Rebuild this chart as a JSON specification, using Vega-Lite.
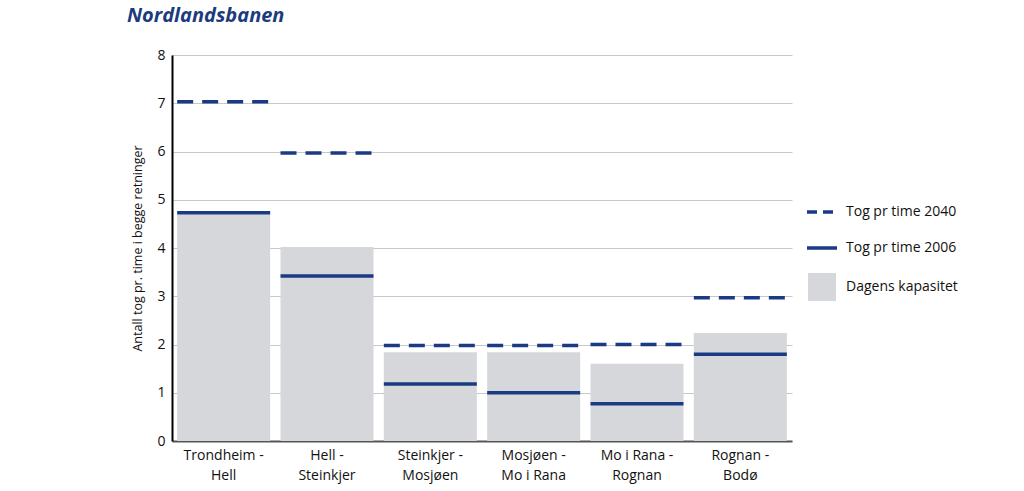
{
  "$schema": "https://vega.github.io/schema/vega-lite/v6.json",
  "autosize": {"type": "none"},
  "padding": {"left": 172, "top": 55, "right": 232, "bottom": 50},
  "width": 620,
  "height": 386,
  "background": "white",
  "title": {
    "text": "Nordlandsbanen",
    "anchor": "start",
    "frame": "group",
    "dx": -45,
    "offset": 22,
    "font": "Open Sans",
    "fontSize": 20,
    "fontWeight": "bold",
    "fontStyle": "italic",
    "color": "#1c3b7e"
  },
  "config": {
    "view": {"stroke": null},
    "font": "Open Sans"
  },
  "datasets": {
    "kapasitet": [
      {"strekning": "Trondheim - Hell", "verdi": 4.7, "serie": "Dagens kapasitet"},
      {"strekning": "Hell - Steinkjer", "verdi": 4.02, "serie": "Dagens kapasitet"},
      {"strekning": "Steinkjer - Mosjøen", "verdi": 1.84, "serie": "Dagens kapasitet"},
      {"strekning": "Mosjøen - Mo i Rana", "verdi": 1.84, "serie": "Dagens kapasitet"},
      {"strekning": "Mo i Rana - Rognan", "verdi": 1.6, "serie": "Dagens kapasitet"},
      {"strekning": "Rognan - Bodø", "verdi": 2.24, "serie": "Dagens kapasitet"}
    ],
    "tog2006": [
      {"strekning": "Trondheim - Hell", "verdi": 4.73, "serie": "Tog pr time 2006"},
      {"strekning": "Hell - Steinkjer", "verdi": 3.42, "serie": "Tog pr time 2006"},
      {"strekning": "Steinkjer - Mosjøen", "verdi": 1.18, "serie": "Tog pr time 2006"},
      {"strekning": "Mosjøen - Mo i Rana", "verdi": 1.0, "serie": "Tog pr time 2006"},
      {"strekning": "Mo i Rana - Rognan", "verdi": 0.77, "serie": "Tog pr time 2006"},
      {"strekning": "Rognan - Bodø", "verdi": 1.8, "serie": "Tog pr time 2006"}
    ],
    "tog2040": [
      {"strekning": "Trondheim - Hell", "verdi": 7.03, "serie": "Tog pr time 2040"},
      {"strekning": "Hell - Steinkjer", "verdi": 5.97, "serie": "Tog pr time 2040"},
      {"strekning": "Steinkjer - Mosjøen", "verdi": 1.98, "serie": "Tog pr time 2040"},
      {"strekning": "Mosjøen - Mo i Rana", "verdi": 1.98, "serie": "Tog pr time 2040"},
      {"strekning": "Mo i Rana - Rognan", "verdi": 2.0, "serie": "Tog pr time 2040"},
      {"strekning": "Rognan - Bodø", "verdi": 2.97, "serie": "Tog pr time 2040"}
    ]
  },
  "encoding": {
    "x": {
      "field": "strekning",
      "type": "nominal",
      "sort": null,
      "scale": {"paddingInner": 0.1, "paddingOuter": 0.05},
      "axis": {
        "title": null,
        "labelAngle": 0,
        "ticks": false,
        "domainColor": "#555555",
        "domainWidth": 2,
        "labelFontSize": 14,
        "labelColor": "#111111",
        "labelPadding": 7,
        "labelLineHeight": 20,
        "labelExpr": "[split(datum.label, ' - ')[0] + ' -', split(datum.label, ' - ')[1]]"
      }
    },
    "y": {
      "field": "verdi",
      "type": "quantitative",
      "scale": {"domain": [0, 8], "nice": false},
      "axis": {
        "title": "Antall tog pr. time i begge retninger",
        "titleFontSize": 12.5,
        "titleFontWeight": "normal",
        "titleColor": "#111111",
        "titlePadding": 12,
        "values": [0, 1, 2, 3, 4, 5, 6, 7, 8],
        "labelOverlap": false,
        "ticks": false,
        "labelFontSize": 14,
        "labelColor": "#111111",
        "labelPadding": 7,
        "domainColor": "#000000",
        "domainWidth": 2,
        "gridColor": "#c8c8c8",
        "gridWidth": 1
      }
    },
    "color": {
      "field": "serie",
      "type": "nominal",
      "scale": {
        "domain": ["Tog pr time 2040", "Tog pr time 2006", "Dagens kapasitet"],
        "range": ["#1b3a84", "#1b3a84", "#d5d7da"]
      },
      "legend": {
        "title": null,
        "orient": "none",
        "legendX": 633,
        "legendY": 140,
        "labelFontSize": 14,
        "labelColor": "#111111",
        "labelOffset": 7,
        "rowPadding": 12,
        "symbolSize": 900,
        "encode": {
          "symbols": {
            "update": {
              "shape": {"signal": "datum.label === 'Dagens kapasitet' ? 'square' : 'stroke'"},
              "size": {"signal": "datum.label === 'Dagens kapasitet' ? 600 : 900"},
              "fill": {"signal": "datum.label === 'Dagens kapasitet' ? '#d5d7da' : 'transparent'"},
              "stroke": {"signal": "datum.label === 'Dagens kapasitet' ? 'transparent' : '#1b3a84'"},
              "strokeWidth": {"value": 3.5},
              "strokeDash": {"signal": "datum.label === 'Tog pr time 2040' ? [10, 6] : [1, 0]"},
              "opacity": {"value": 1},
              "fillOpacity": {"value": 1},
              "strokeOpacity": {"value": 1}
            }
          }
        }
      }
    }
  },
  "layer": [
    {
      "data": {"name": "kapasitet"},
      "mark": {"type": "bar", "opacity": 1}
    },
    {
      "data": {"name": "tog2006"},
      "mark": {"type": "rule", "strokeWidth": 3.5, "strokeCap": "butt"},
      "encoding": {
        "x": {"field": "strekning", "type": "nominal", "sort": null, "bandPosition": 0},
        "x2": {"field": "strekning", "bandPosition": 1}
      }
    },
    {
      "data": {"name": "tog2040"},
      "mark": {"type": "rule", "strokeWidth": 3.5, "strokeDash": [16, 9], "strokeCap": "butt"},
      "encoding": {
        "x": {"field": "strekning", "type": "nominal", "sort": null, "bandPosition": 0},
        "x2": {"field": "strekning", "bandPosition": 1}
      }
    }
  ]
}
